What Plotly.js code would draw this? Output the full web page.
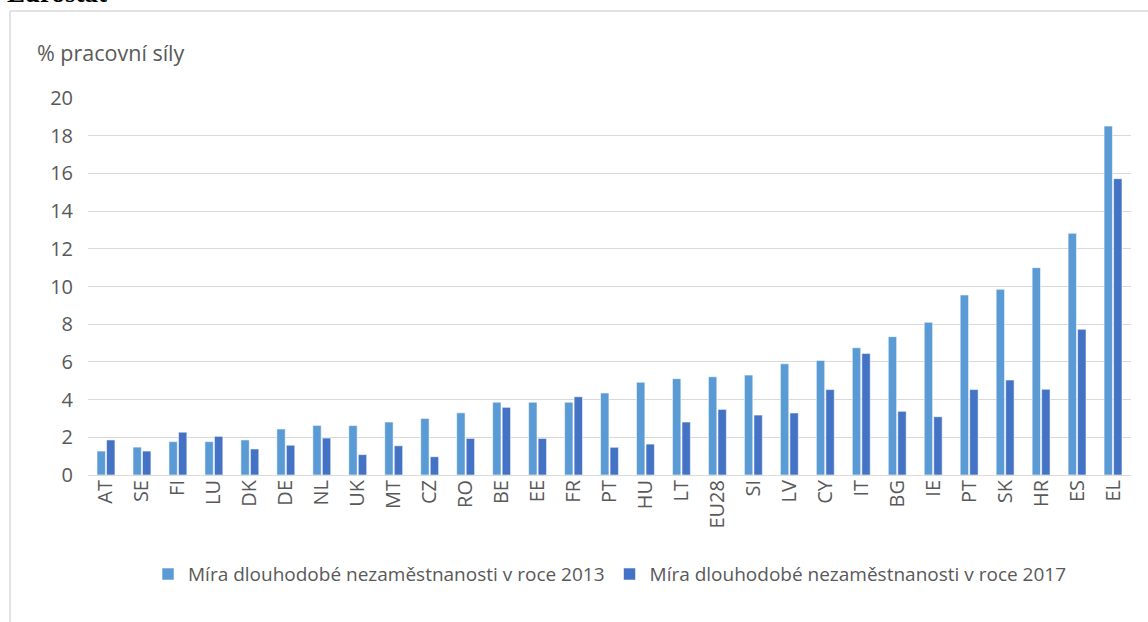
<!DOCTYPE html>
<html>
<head>
<meta charset="utf-8">
<script src="https://cdn.plot.ly/plotly-3.0.1.min.js"></script>
<style>html,body{margin:0;padding:0;background:#fff;}#chart{width:1148px;height:622px;}</style>
</head>
<body>
<div id="chart"></div>
<script>
const categories = ["AT","SE","FI","LU","DK","DE","NL","UK","MT","CZ","RO","BE","EE","FR","PT","HU","LT","EU28","SI","LV","CY","IT","BG","IE","PT","SK","HR","ES","EL"];
const values2013 = [1.27,1.48,1.77,1.77,1.86,2.44,2.63,2.62,2.81,3.0,3.3,3.86,3.86,3.86,4.35,4.92,5.11,5.21,5.3,5.9,6.08,6.75,7.34,8.1,9.55,9.85,11.0,12.82,18.51];
const values2017 = [1.86,1.27,2.27,2.05,1.38,1.58,1.96,1.08,1.55,0.97,1.94,3.59,1.94,4.15,1.47,1.64,2.81,3.48,3.18,3.29,4.53,6.45,3.38,3.09,4.53,5.04,4.55,7.73,15.72];
const seriesNames = ["Míra dlouhodobé nezaměstnanosti v roce 2013","Míra dlouhodobé nezaměstnanosti v roce 2017"];
const yTicks = [0,2,4,6,8,10,12,14,16,18,20];

const xIdx = categories.map((c,i)=>i);
const FONT = "'Open Sans', Lato, sans-serif";
const GREY = "#595959";

const traces = [
  {type:"bar", name:seriesNames[0], x:xIdx, y:values2013,
   marker:{color:"#5B9BD5", line:{color:"rgba(255,255,255,0.55)", width:1}}},
  {type:"bar", name:seriesNames[1], x:xIdx, y:values2017,
   marker:{color:"#4472C4", line:{color:"rgba(255,255,255,0.55)", width:1}}}
];

const layout = {
  width:1148, height:622,
  margin:{l:88, r:17, t:98, b:147},
  paper_bgcolor:"#fff", plot_bgcolor:"#fff",
  barmode:"group", bargap:0.47, bargroupgap:0.12,
  showlegend:true,
  legend:{orientation:"h", x:0.5005, xanchor:"center", y:-0.263, yanchor:"middle",
          font:{family:FONT, size:19, color:GREY}, itemwidth:30, traceorder:"normal"},
  xaxis:{range:[-0.5, categories.length-0.5], tickmode:"array", tickvals:xIdx, ticktext:categories,
         tickangle:-90, showgrid:false, zeroline:false, showline:false, ticks:"",
         tickfont:{family:FONT, size:20, color:GREY}, fixedrange:true},
  yaxis:{range:[0,20], tickmode:"array", tickvals:yTicks, showgrid:true, gridcolor:"#d9d9d9", gridwidth:1,
         zeroline:true, zerolinecolor:"#d9d9d9", zerolinewidth:1, showline:false, ticks:"",
         ticklabelstandoff:14, tickfont:{family:FONT, size:20, color:GREY}, fixedrange:true},
  shapes:[
    {type:"line", xref:"paper", yref:"paper", x0:-0.0748, x1:-0.0748, y0:1.2308, y1:-0.5, line:{color:"#d9d9d9", width:1.5}, layer:"below"},
    {type:"line", xref:"paper", yref:"paper", x0:-0.0748, x1:1.1, y0:1.2308, y1:1.2308, line:{color:"#d9d9d9", width:1.5}, layer:"below"}
  ],
  annotations:[
    {text:"<b>Eurostat</b>", xref:"paper", yref:"paper", x:-0.0796, xanchor:"left", y:1.2334, yanchor:"bottom",
     showarrow:false, font:{family:"'Liberation Serif', 'DejaVu Serif', serif", size:27, color:"#000"}},
    {text:"% pracovní síly", xref:"paper", yref:"paper", x:-0.0508, xanchor:"left", y:1.1194, yanchor:"middle",
     showarrow:false, font:{family:FONT, size:21.5, color:GREY}}
  ]
};

Plotly.newPlot("chart", traces, layout, {displayModeBar:false, staticPlot:true});
</script>
</body>
</html>
